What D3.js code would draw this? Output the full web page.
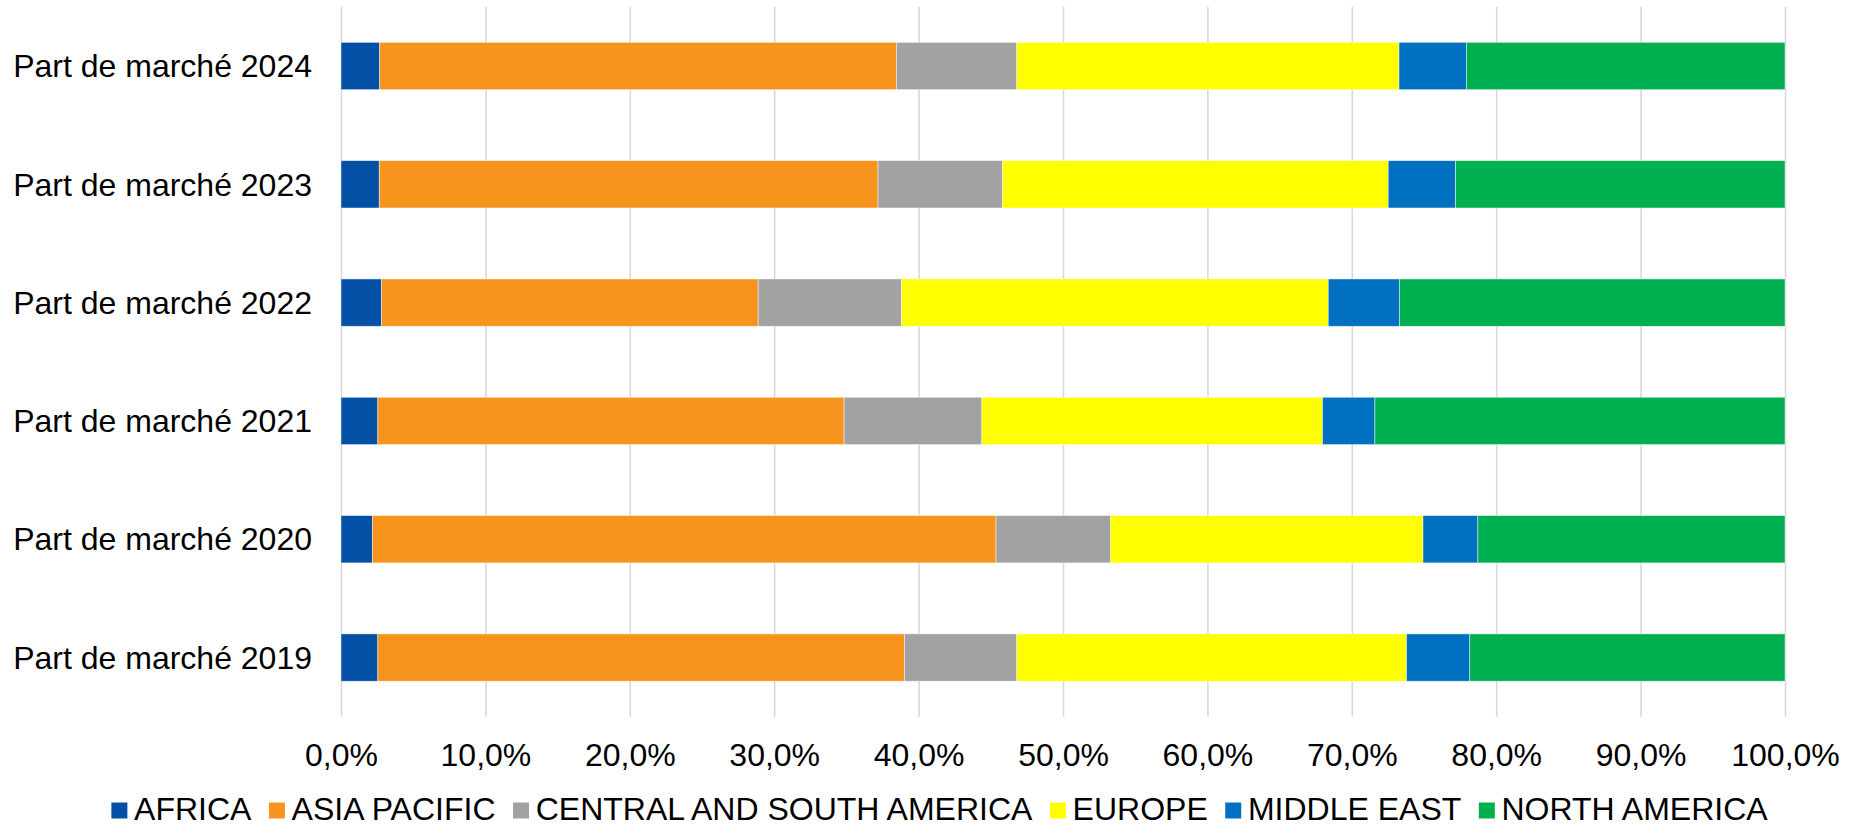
<!doctype html>
<html lang="fr">
<head>
	<meta charset="utf-8">
	<title>Part de marché par région</title>
	<script src="https://cdnjs.cloudflare.com/ajax/libs/d3/7.8.5/d3.min.js"></script>
	<style>
		html, body { margin: 0; padding: 0; background: #fff; }
		svg { display: block; }
		text { font-family: "Liberation Sans", Arial, sans-serif; fill: #000; }
	</style>
</head>
<body>
<div id="chart"></div>
<script>
/* data (percent of market, years 2019 -> 2024) */
var categories = ['Part de marché 2019', 'Part de marché 2020', 'Part de marché 2021',
                  'Part de marché 2022', 'Part de marché 2023', 'Part de marché 2024'];
var seriesNames = ['AFRICA', 'ASIA PACIFIC', 'CENTRAL AND SOUTH AMERICA', 'EUROPE', 'MIDDLE EAST', 'NORTH AMERICA'];
var seriesColors = ['#0450A4', '#F7941E', '#A2A2A2', '#FFFF00', '#0070C0', '#00AF50'];

var africa       = [2.55, 2.19, 2.55, 2.81, 2.65, 2.68];
var asiaPacific  = [36.47, 43.17, 32.29, 26.08, 34.54, 35.78];
var csAmerica    = [7.78, 7.94, 9.54, 9.93, 8.63, 8.34];
var europe       = [26.99, 21.63, 23.59, 29.55, 26.70, 26.47];
var middleEast   = [4.38, 3.80, 3.63, 4.93, 4.67, 4.67];
var northAmerica = [21.83, 21.27, 28.40, 26.70, 22.81, 22.06];

var tickValues = [0, 10, 20, 30, 40, 50, 60, 70, 80, 90, 100];

/* view */
var size = { width: 1850, height: 828 };
var plot = { left: 341, right: 1785, top: 6.85, bottom: 716.7 };
var fontSize = 32;

var svg = d3.select('#chart')
	.append('svg')
	.attr('width', size.width)
	.attr('height', size.height);

var x = d3.scaleLinear()
	.domain([0, 100])
	.range([plot.left, plot.right]);

// first category sits at the bottom, like a spreadsheet bar chart
var y = d3.scaleBand()
	.domain(categories.slice().reverse())
	.range([plot.top, plot.bottom])
	.paddingInner(0.6)
	.paddingOuter(0.3);

var fr = d3.formatLocale({ decimal: ',', thousands: ' ', grouping: [3], currency: ['', ' €'] });
var fmt = fr.format('.1f');

// gridlines + tick labels
var xAxis = svg.append('g')
	.attr('class', 'x-axis')
	.attr('transform', 'translate(0,' + plot.bottom + ')')
	.call(d3.axisBottom(x)
		.tickValues(tickValues)
		.tickSize(-(plot.bottom - plot.top))
		.tickFormat(function(d){ return fmt(d) + '%'; }));

xAxis.select('.domain').remove();
xAxis.selectAll('.tick line')
	.attr('stroke', '#D9D9D9')
	.attr('stroke-width', 1.6);
xAxis.selectAll('.tick text')
	.attr('y', 766 - plot.bottom)
	.attr('dy', 0)
	.style('font-size', fontSize + 'px')
	.style('font-family', '"Liberation Sans", Arial, sans-serif')
	.attr('fill', '#000');

// stack the series
var seriesValues = [africa, asiaPacific, csAmerica, europe, middleEast, northAmerica];
var rows = categories.map(function(c, i){
	var row = { category: c };
	seriesNames.forEach(function(s, j){ row[s] = seriesValues[j][i]; });
	return row;
});
var stacked = d3.stack().keys(seriesNames)(rows);

var layers = svg.selectAll('g.layer')
	.data(stacked)
	.enter()
	.append('g')
	.attr('class', 'layer')
	.attr('fill', function(d, i){ return seriesColors[i]; });

layers.selectAll('rect')
	.data(function(d){ return d; })
	.enter()
	.append('rect')
	.attr('x', function(d){ return x(d[0]); })
	.attr('width', function(d){ return x(d[1]) - x(d[0]); })
	.attr('y', function(d){ return y(d.data.category); })
	.attr('height', y.bandwidth())
	.attr('stroke', '#fff')
	.attr('stroke-opacity', 0.6)
	.attr('stroke-width', 0.75);

// category labels
svg.append('g')
	.attr('class', 'y-labels')
	.selectAll('text')
	.data(categories)
	.enter()
	.append('text')
	.attr('x', 312)
	.attr('y', function(d){ return y(d) + y.bandwidth() / 2; })
	.attr('dy', '0.35em')
	.attr('text-anchor', 'end')
	.style('font-size', fontSize + 'px')
	.text(function(d){ return d; });

// legend, centred under the chart (kept just inside the bottom edge)
var legend = svg.append('g').attr('class', 'legend');
var baseline = 820;
var marker = 16, markerGap = 22.7, itemGap = 17.5;

var items = legend.selectAll('g.item')
	.data(seriesNames)
	.enter()
	.append('g')
	.attr('class', 'item');

items.append('rect')
	.attr('width', marker)
	.attr('height', marker)
	.attr('y', baseline - 17.5)
	.attr('fill', function(d, i){ return seriesColors[i]; });

items.append('text')
	.attr('x', markerGap)
	.attr('y', baseline)
	.style('font-size', fontSize + 'px')
	.text(function(d){ return d; });

var widths = [];
items.select('text').each(function(){ widths.push(this.getComputedTextLength()); });
var total = d3.sum(widths) + widths.length * markerGap + (widths.length - 1) * itemGap;
var cursor = 939.5 - total / 2;
items.attr('transform', function(d, i){
	var pos = cursor;
	cursor += markerGap + widths[i] + itemGap;
	return 'translate(' + pos + ',0)';
});
</script>
</body>
</html>
